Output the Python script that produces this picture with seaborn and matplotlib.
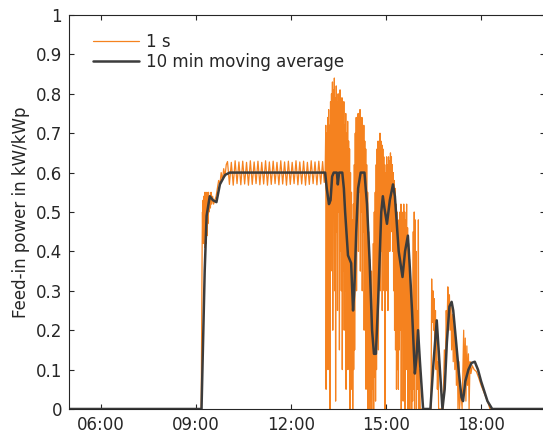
import pandas as pd
import matplotlib
matplotlib.use("Agg")
import matplotlib.pyplot as plt
import seaborn as sns

# 1 s feed-in power (time in hours of the day, power in kW/kWp)
t_1s = [5.00, 9.17, 9.20, 9.21, 9.22, 9.23, 9.24, 9.25, 9.26, 9.27, 9.28, 9.29, 9.30,
        9.31, 9.32, 9.33, 9.34, 9.35, 9.36, 9.37, 9.38, 9.40, 9.42, 9.44, 9.46, 9.48,
        9.50, 9.53, 9.56, 9.60, 9.64, 9.68, 9.72, 9.76, 9.80, 9.84, 9.88, 9.92, 9.96,
        10.00, 10.06, 10.12, 10.18, 10.24, 10.30, 10.36, 10.42, 10.48, 10.54, 10.60,
        10.66, 10.72, 10.78, 10.84, 10.90, 10.96, 11.02, 11.08, 11.14, 11.20, 11.26,
        11.32, 11.38, 11.44, 11.50, 11.56, 11.62, 11.68, 11.74, 11.80, 11.86, 11.92,
        11.98, 12.04, 12.10, 12.16, 12.22, 12.28, 12.34, 12.40, 12.46, 12.52, 12.58,
        12.64, 12.70, 12.76, 12.82, 12.88, 12.94, 13.00, 13.05,
        13.08, 13.10, 13.11, 13.13, 13.14, 13.16, 13.17, 13.19, 13.20, 13.22, 13.23,
        13.25, 13.26, 13.28, 13.29, 13.31, 13.32, 13.34, 13.35, 13.37, 13.38, 13.40,
        13.41, 13.43, 13.44, 13.46, 13.47, 13.49, 13.50, 13.52, 13.53, 13.55, 13.56,
        13.58, 13.59, 13.61, 13.62, 13.64, 13.65, 13.67, 13.68, 13.70, 13.71, 13.73,
        13.74, 13.76, 13.77, 13.79, 13.80, 13.82, 13.83, 13.85, 13.86, 13.88, 13.89,
        13.91, 13.92, 13.94, 13.95, 13.97, 13.98, 14.00, 14.01, 14.03, 14.04, 14.06,
        14.07, 14.09, 14.10, 14.12, 14.13, 14.15, 14.16, 14.18, 14.19, 14.21, 14.22,
        14.24, 14.25, 14.27, 14.28, 14.30, 14.31, 14.33, 14.34, 14.36, 14.37, 14.39,
        14.40, 14.42, 14.43, 14.45, 14.46, 14.48, 14.49, 14.51, 14.52, 14.54, 14.55,
        14.57, 14.58, 14.60, 14.61, 14.63, 14.64, 14.66, 14.67, 14.69, 14.70, 14.72,
        14.73, 14.75, 14.76, 14.78, 14.79, 14.81, 14.82, 14.84, 14.85, 14.87, 14.88,
        14.90, 14.91, 14.93, 14.94, 14.96, 14.97, 14.99, 15.00, 15.02, 15.03, 15.05,
        15.06, 15.08, 15.09, 15.11, 15.12, 15.14, 15.15, 15.17, 15.18, 15.20, 15.21,
        15.23, 15.24, 15.26, 15.27, 15.29, 15.30, 15.32, 15.33, 15.35, 15.36, 15.38,
        15.39, 15.41, 15.42, 15.44, 15.45, 15.47, 15.48, 15.50, 15.51, 15.53, 15.54,
        15.56, 15.57, 15.59, 15.60, 15.62, 15.63, 15.65, 15.66, 15.68, 15.69, 15.71,
        15.72, 15.74, 15.75, 15.77, 15.78, 15.80, 15.81, 15.83, 15.84, 15.86, 15.87,
        15.89, 15.90, 15.92, 15.93, 15.95, 15.96, 15.98, 16.00, 16.02, 16.04, 16.06,
        16.08, 16.10, 16.42, 16.44, 16.46, 16.48, 16.50, 16.52, 16.54, 16.56, 16.58,
        16.60, 16.62, 16.64, 16.66, 16.80, 16.84, 16.87, 16.90, 16.92, 16.95, 16.97,
        17.00, 17.02, 17.05, 17.07, 17.10, 17.12, 17.15, 17.17, 17.20, 17.22, 17.25,
        17.27, 17.30, 17.32, 17.36, 17.40, 17.45, 17.47, 17.50, 17.52, 17.55, 17.57,
        17.60, 17.62, 17.65, 17.68, 17.72, 17.78, 17.85, 17.92, 18.00, 18.10, 18.20,
        18.28, 20.00]
p_1s = [0.00, 0.00, 0.42, 0.50, 0.43, 0.53, 0.42, 0.54, 0.44, 0.52, 0.41, 0.55, 0.45,
        0.53, 0.42, 0.54, 0.46, 0.55, 0.44, 0.53, 0.47, 0.55, 0.50, 0.54, 0.51, 0.55,
        0.52, 0.54, 0.52, 0.53, 0.54, 0.56, 0.58, 0.57, 0.60, 0.58, 0.61, 0.59, 0.62,
        0.628, 0.570, 0.626, 0.568, 0.630, 0.572, 0.627, 0.569, 0.629, 0.571, 0.626,
        0.568, 0.630, 0.570, 0.627, 0.572, 0.629, 0.569, 0.626, 0.571, 0.630, 0.568,
        0.627, 0.570, 0.629, 0.572, 0.626, 0.569, 0.630, 0.571, 0.627, 0.568, 0.629,
        0.570, 0.626, 0.572, 0.630, 0.569, 0.627, 0.571, 0.629, 0.568, 0.626, 0.570,
        0.630, 0.572, 0.627, 0.569, 0.629, 0.571, 0.628, 0.575,
        0.60, 0.72, 0.05, 0.70, 0.30, 0.74, 0.10, 0.76, 0.45, 0.72, 0.00,
        0.78, 0.35, 0.80, 0.50, 0.83, 0.20, 0.81, 0.55, 0.84, 0.30, 0.79,
        0.02, 0.82, 0.45, 0.78, 0.25, 0.80, 0.50, 0.77, 0.15, 0.81, 0.40,
        0.76, 0.30, 0.79, 0.10, 0.74, 0.35, 0.78, 0.20, 0.72, 0.30, 0.75,
        0.05, 0.70, 0.20, 0.73, 0.10, 0.68, 0.15, 0.66, 0.00, 0.60, 0.10,
        0.55, 0.05, 0.48, 0.00, 0.52, 0.10, 0.62, 0.15, 0.70, 0.35, 0.74,
        0.30, 0.72, 0.50, 0.75, 0.40, 0.73, 0.55, 0.76, 0.35, 0.72, 0.50,
        0.74, 0.30, 0.70, 0.45, 0.72, 0.20, 0.68, 0.25, 0.66, 0.05, 0.62,
        0.10, 0.55, 0.00, 0.45, 0.05, 0.38, 0.00, 0.30, 0.02, 0.35, 0.00,
        0.25, 0.05, 0.42, 0.00, 0.50, 0.08, 0.55, 0.02, 0.62, 0.10, 0.66,
        0.20, 0.68, 0.15, 0.66, 0.35, 0.70, 0.30, 0.68, 0.40, 0.67, 0.25,
        0.66, 0.45, 0.64, 0.30, 0.62, 0.00, 0.60, 0.30, 0.64, 0.35, 0.62,
        0.25, 0.64, 0.45, 0.63, 0.40, 0.65, 0.50, 0.64, 0.45, 0.62, 0.40,
        0.60, 0.30, 0.58, 0.20, 0.56, 0.15, 0.52, 0.05, 0.50, 0.10, 0.48,
        0.05, 0.45, 0.15, 0.50, 0.20, 0.52, 0.00, 0.50, 0.30, 0.48, 0.02,
        0.52, 0.25, 0.50, 0.00, 0.48, 0.30, 0.52, 0.10, 0.46, 0.00, 0.42,
        0.05, 0.38, 0.00, 0.30, 0.05, 0.25, 0.00, 0.20, 0.02, 0.45, 0.05,
        0.50, 0.00, 0.48, 0.10, 0.40, 0.00, 0.25, 0.05, 0.48, 0.00, 0.10,
        0.00, 0.00, 0.00, 0.33, 0.22, 0.30, 0.20, 0.28, 0.15, 0.25, 0.10,
        0.20, 0.05, 0.12, 0.00, 0.00, 0.15, 0.10, 0.25, 0.18, 0.31, 0.24,
        0.29, 0.20, 0.26, 0.15, 0.24, 0.12, 0.22, 0.10, 0.18, 0.06, 0.15,
        0.00, 0.12, 0.00, 0.05, 0.00, 0.20, 0.05, 0.18, 0.02, 0.16, 0.06,
        0.14, 0.00, 0.12, 0.09, 0.11, 0.10, 0.095, 0.08, 0.06, 0.04, 0.02,
        0.00, 0.00]

# 10 min moving average
t_avg = [5.00, 9.18, 9.28, 9.34, 9.44, 9.54, 9.65, 9.76, 9.92, 10.07, 13.08, 13.13,
         13.20, 13.25, 13.30, 13.35, 13.45, 13.48, 13.52, 13.62, 13.67, 13.71, 13.80,
         13.90, 13.96, 14.00, 14.06, 14.12, 14.20, 14.32, 14.40, 14.48, 14.56, 14.62,
         14.68, 14.75, 14.85, 14.90, 14.95, 15.03, 15.12, 15.22, 15.28, 15.40, 15.52,
         15.60, 15.69, 15.75, 15.82, 15.91, 15.96, 16.01, 16.07, 16.17, 16.40, 16.50,
         16.60, 16.70, 16.78, 16.85, 16.92, 17.00, 17.07, 17.12, 17.20, 17.30, 17.38,
         17.43, 17.50, 17.60, 17.70, 17.80, 17.90, 18.00, 18.10, 18.20, 18.35, 20.00]
p_avg = [0.00, 0.00, 0.35, 0.49, 0.54, 0.53, 0.525, 0.57, 0.594, 0.60, 0.60, 0.56,
         0.52, 0.53, 0.59, 0.60, 0.60, 0.57, 0.60, 0.60, 0.56, 0.50, 0.39,
         0.37, 0.25, 0.30, 0.45, 0.56, 0.60, 0.60, 0.52, 0.38, 0.20, 0.14,
         0.14, 0.27, 0.50, 0.54, 0.51, 0.47, 0.53, 0.57, 0.54, 0.40, 0.335,
         0.40, 0.44, 0.36, 0.25, 0.09, 0.13, 0.20, 0.12, 0.00, 0.00, 0.12,
         0.225, 0.10, 0.00, 0.05, 0.17, 0.26, 0.272, 0.25, 0.18, 0.09, 0.03,
         0.02, 0.07, 0.10, 0.117, 0.12, 0.10, 0.07, 0.045, 0.02, 0.00, 0.00]

x_ticks = [6, 9, 12, 15, 18]
x_labels = ['06:00', '09:00', '12:00', '15:00', '18:00']
y_ticks = [0, 0.1, 0.2, 0.3, 0.4, 0.5, 0.6, 0.7, 0.8, 0.9, 1.0]
y_labels = ['0', '0.1', '0.2', '0.3', '0.4', '0.5', '0.6', '0.7', '0.8', '0.9', '1']

df_1s = pd.DataFrame({'time': t_1s, 'power': p_1s})
df_avg = pd.DataFrame({'time': t_avg, 'power': p_avg})

sns.set_style('ticks')
plt.rcParams['font.family'] = ['DejaVu Sans']
axis_col = '#262626'

fig = plt.figure(figsize=(5.43, 4.37), dpi=100)
ax = fig.add_axes([0.1271, 0.0641, 0.8757, 0.9016])

sns.lineplot(data=df_1s, x='time', y='power', ax=ax, color='#F5821F', lw=0.9,
             estimator=None, sort=False, label='1 s')
sns.lineplot(data=df_avg, x='time', y='power', ax=ax, color='#3c3c3c', lw=1.8,
             estimator=None, sort=False, label='10 min moving average')

ax.set_xlim(5, 20)
ax.set_ylim(0, 1)
ax.set_xticks(x_ticks)
ax.set_xticklabels(x_labels)
ax.set_yticks(y_ticks)
ax.set_yticklabels(y_labels)
ax.set_xlabel('')
ax.set_ylabel('Feed-in power in kW/kWp', fontsize=12, color=axis_col)
ax.tick_params(direction='in', length=3.6, width=0.8, top=True, right=True,
               labelsize=12, colors=axis_col, pad=5)
for s in ax.spines.values():
    s.set_color(axis_col)
    s.set_linewidth(0.8)

ax.legend(loc='upper left', bbox_to_anchor=(0.05, 0.955), frameon=False,
          fontsize=12, handlelength=2.8, handletextpad=0.4, labelspacing=0.15,
          borderpad=0, borderaxespad=0)

fig.savefig('out.png', dpi=100)
